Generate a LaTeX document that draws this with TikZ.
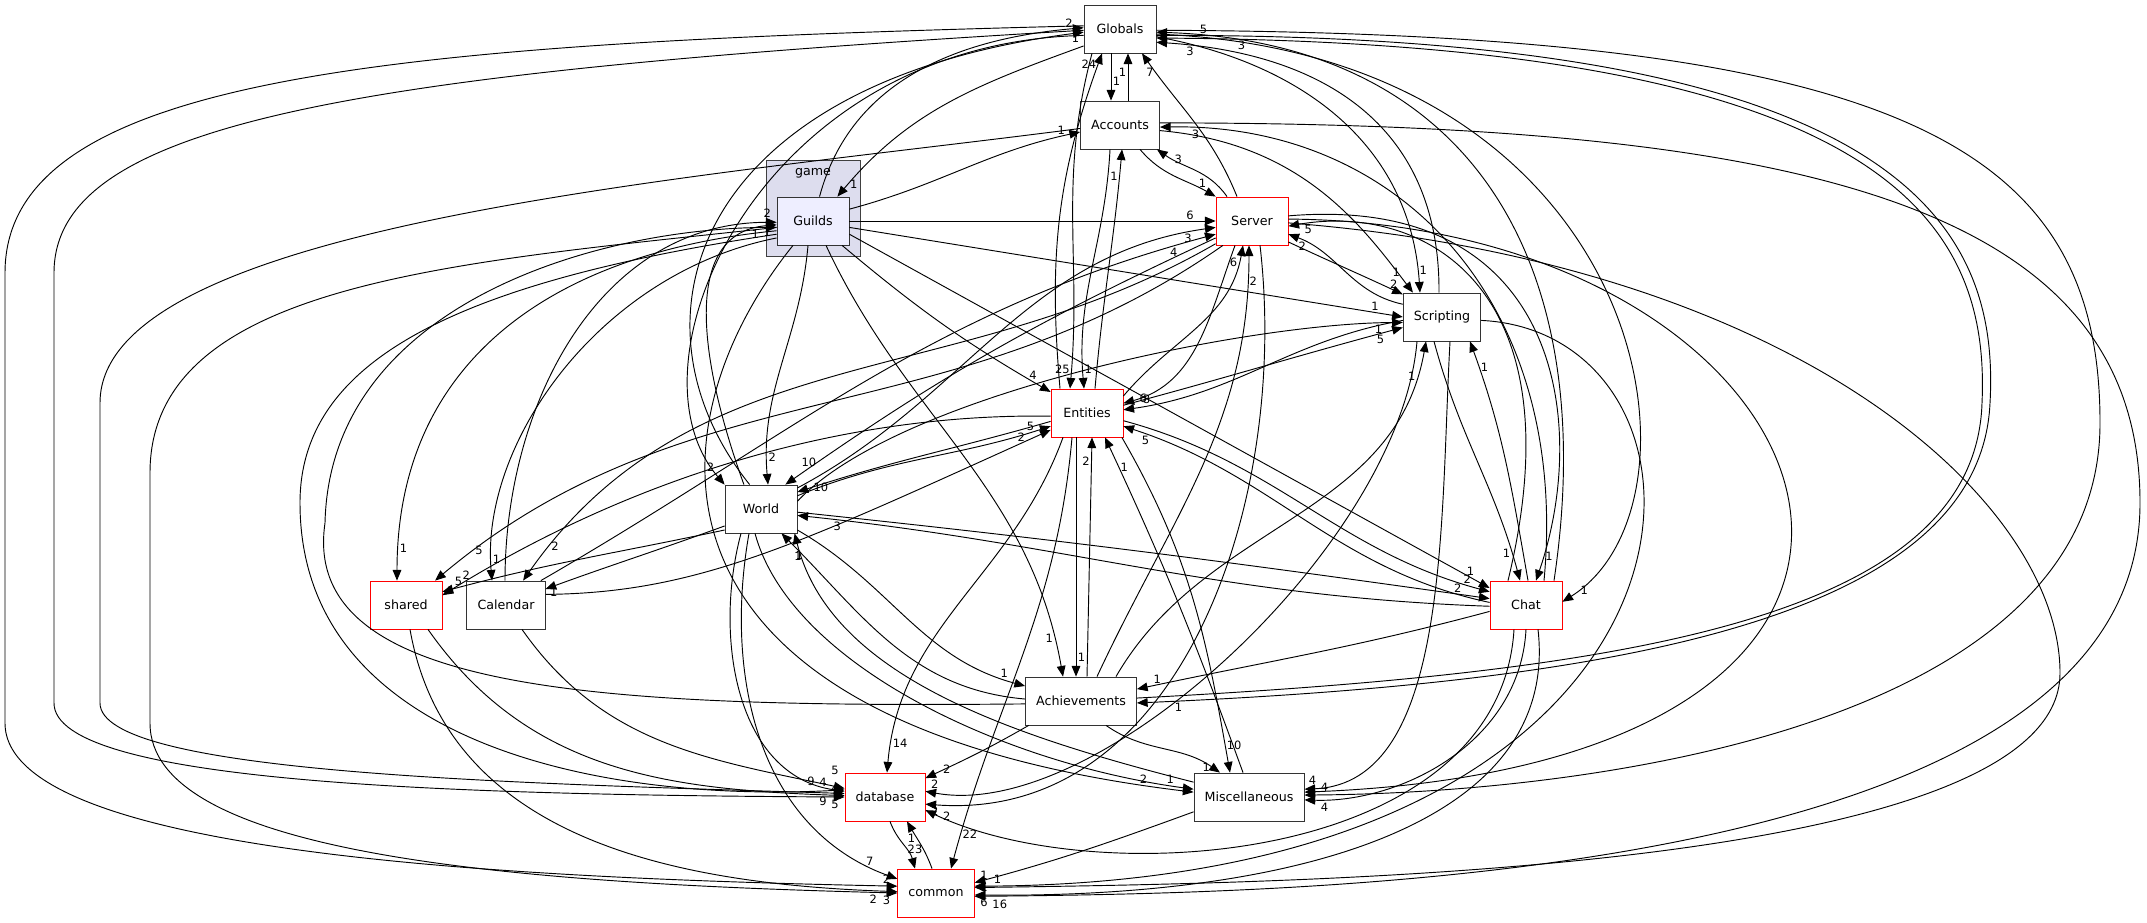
\documentclass[tikz,border=0pt]{standalone}
\usepackage{fontspec}
\setmainfont{DejaVu Sans}
\usepackage{tikz}
\usetikzlibrary{arrows.meta,calc,positioning}
\definecolor{clusterfill}{HTML}{DDDDEE}
\definecolor{guildsfill}{HTML}{EEEEFF}

\begin{document}
\begin{tikzpicture}[x=0.75pt,y=0.75pt]
\tikzstyle{dirnode}=[rectangle,draw=black!80,fill=white,line width=0.6pt,minimum width=54pt,minimum height=36pt,inner xsep=8pt,font=\fontsize{9.5}{11}\selectfont]
\tikzstyle{reddir}=[dirnode,draw=red]
\tikzstyle{curdir}=[dirnode,fill=guildsfill]
\tikzstyle{dep}=[-{Triangle[length=8pt,width=6.5pt]},line width=0.7pt]
\tikzstyle{lbl}=[font=\fontsize{8.6}{10}\selectfont,inner sep=1pt]
\useasboundingbox (0,0) rectangle (2147,923);
\filldraw[fill=clusterfill,draw=black!75,line width=0.6pt] (766.7,667) rectangle (860,762.3);
\node[font=\fontsize{9.5}{11}\selectfont] (gamelbl) at (813,750) {game};

\node[dirnode] (g) at (1120,894) {Globals};
\node[dirnode] (ac) at (1120,798) {Accounts};
\node[curdir] (gu) at (813,702) {Guilds};
\node[reddir] (s) at (1252,702) {Server};
\node[dirnode] (sc) at (1442,606) {Scripting};
\node[reddir] (e) at (1087,510) {Entities};
\node[dirnode] (w) at (761,414) {World};
\node[reddir] (sh) at (406,318) {shared};
\node[dirnode] (ca) at (506,318) {Calendar};
\node[reddir] (ch) at (1526,318) {Chat};
\node[dirnode] (av) at (1081,222) {Achievements};
\node[reddir] (db) at (885,126) {database};
\node[dirnode] (m) at (1249,126) {Miscellaneous};
\node[reddir] (co) at (936,30) {common};

\draw[dep] ($(g.south)+(-9,0)$) -- node[lbl,pos=.6,right]{1} ($(ac.north)+(-9,0)$);
\draw[dep] ($(ac.north)+(8,0)$) -- node[lbl,pos=.6,left]{1} ($(g.south)+(8,0)$);
\draw[dep] ($(e.north)+(-27,0)$) to[out=95,in=-110] node[lbl,pos=.97,left]{24} ($(g.south)+(-18,0)$);
\draw[dep] ($(g.south)+(-28,0)$) to[out=-105,in=85] node[lbl,pos=.95,left]{25} ($(e.north)+(-17,0)$);
\draw[dep] ($(ac.south)+(-10,0)$) to[out=-93,in=95] node[lbl,pos=.93,right]{1} ($(e.north)+(-3,0)$);
\draw[dep] ($(e.north)+(8,0)$) to[out=85,in=-95] node[lbl,pos=.9,left]{1} ($(ac.south)+(2,0)$);
\draw[dep] ($(s.north)+(-15,0)$) to[out=112,in=-55] node[lbl,pos=.88,left]{7} ($(g.south)+(22,0)$);
\draw[dep] ($(s.north)+(-25,0)$) to[out=125,in=-35] node[lbl,pos=.8,right]{3} ($(ac.south east)+(-3,0)$);
\draw[dep] ($(ac.south)+(20,0)$) to[out=-50,in=150] node[lbl,pos=.85,above]{1} (s.north west);

\draw[dep] (g.205) to[out=200,in=50] node[lbl,pos=.95,right]{1} (gu.45);
\draw[dep] (gu.75) to[out=75,in=185] node[lbl,pos=.96,above]{2} (g.178);
\draw[dep] (w.115) .. controls (620,600) and (690,840) .. node[lbl,pos=1,anchor=north east,xshift=-2pt]{1} (g.185);
\draw[dep] (g.190) .. controls (760,880) and (620,560) .. node[lbl,pos=.97,above left]{2} (w.north west);
\draw[dep] (g.175) .. controls (400,880) and (5,850) .. (5,650) -- (5,200) .. controls (5,70) and (500,45) .. node[lbl,pos=1,anchor=south east,xshift=-4pt,yshift=1pt]{2} (co.170);
\draw[dep] (g.182) .. controls (350,850) and (54,800) .. (54,650) -- (54,220) .. controls (54,140) and (450,128) .. node[lbl,pos=1,anchor=north east,xshift=-3pt,yshift=-1pt]{5} (db.180);
\draw[dep] (ac.185) .. controls (700,745) and (100,700) .. (100,520) -- (100,220) .. controls (100,150) and (500,140) .. node[lbl,pos=1,anchor=north east,xshift=-12pt,yshift=-1pt]{9} (db.175);
\draw[dep] (gu.190) .. controls (450,660) and (150,640) .. (150,450) -- (150,200) .. controls (150,70) and (500,40) .. node[lbl,pos=1,anchor=north east,xshift=-4pt,yshift=-1pt]{3} (co.180);
\draw[dep] (gu.200) .. controls (450,640) and (300,560) .. (300,420) .. controls (300,180) and (600,120) .. node[lbl,pos=1,anchor=south east,xshift=-12pt,yshift=1pt]{4} (db.170);
\draw[dep] (gu.195) .. controls (550,670) and (397,560) .. node[lbl,pos=.95,right]{1} ($(sh.north)+(-9,0)$);
\draw[dep] (gu.205) .. controls (600,650) and (480,480) .. node[lbl,pos=.95,right]{1} ($(ca.north)+(-14,0)$);
\draw[dep] ($(ca.north)+(-1,0)$) .. controls (505,520) and (600,700) .. node[lbl,pos=1,anchor=south east,xshift=-3pt,yshift=2pt]{2} (gu.182);
\draw[dep] (w.125) .. controls (700,560) and (680,690) .. node[lbl,pos=1,anchor=north east,xshift=-3pt,yshift=-1pt]{1} (gu.186);
\draw[dep] (av.183) .. controls (600,215) and (300,230) .. (325,400) .. controls (330,620) and (600,695) .. node[lbl,pos=1,anchor=north east,xshift=-12pt,yshift=-1pt]{1} (gu.190);

\draw[dep] (gu.18) to[out=15,in=192] node[lbl,pos=.93,above]{1} (ac.190);
\draw[dep] (gu.east) -- node[lbl,pos=.93,above]{6} (s.west);
\draw[dep] (gu.-10) -- node[lbl,pos=.95,above]{1} (sc.180);
\draw[dep] (gu.-40) to[out=-40,in=150] node[lbl,pos=.93,above]{4} (e.150);
\draw[dep] (gu.-20) -- node[lbl,pos=.97,above]{1} (ch.155);
\draw[dep] ($(gu.south)+(13,0)$) to[out=-65,in=100] node[lbl,pos=.93,left]{1} ($(av.north)+(-18,0)$);
\draw[dep] ($(gu.south)+(-5,0)$) to[out=-95,in=95] node[lbl,pos=.9,right]{2} ($(w.north)+(7,0)$);
\draw[dep] ($(gu.south)+(-20,0)$) .. controls (650,500) and (620,200) .. node[lbl,pos=.97,above]{2} (m.175);

\draw[dep] (w.30) to[out=28,in=188] node[lbl,pos=.95,below]{3} (s.190);
\draw[dep] (ca.35) to[out=30,in=195] node[lbl,pos=.95,below]{4} (s.200);
\draw[dep] (s.205) to[out=205,in=35] node[lbl,pos=.95,above]{10} (w.45);
\draw[dep] (s.212) to[out=210,in=55] node[lbl,pos=.95,right]{2} (ca.55);
\draw[dep] (s.220) to[out=215,in=40] node[lbl,pos=.95,right]{5} (sh.40);
\draw[dep] ($(av.north)+(16,0)$) to[out=65,in=-90] node[lbl,pos=.93,right]{2} ($(s.south)+(-3,0)$);
\draw[dep] (e.25) to[out=50,in=-100] node[lbl,pos=.92,left]{6} ($(s.south)+(-9,0)$);
\draw[dep] ($(s.south)+(-17,0)$) to[out=-110,in=15] node[lbl,pos=.93,right]{6} (e.15);
\draw[dep] (s.-30) to[out=-25,in=155] node[lbl,pos=.93,above]{2} (sc.150);
\draw[dep] (sc.162) to[out=168,in=-20] node[lbl,pos=.9,below]{2} (s.-20);
\draw[dep] ($(ch.north)+(-18,0)$) .. controls (1580,640) and (1420,720) .. node[lbl,pos=.95,below]{5} (s.-8);
\draw[dep] (s.8) .. controls (1560,730) and (1590,500) .. node[lbl,pos=.95,right]{1} ($(ch.north)+(10,0)$);
\draw[dep] ($(s.south)+(8,0)$) .. controls (1290,420) and (1180,100) .. node[lbl,pos=1,anchor=north west,xshift=3pt,yshift=-1pt]{2} (db.-10);
\draw[dep] (s.3) .. controls (1850,700) and (2050,160) .. node[lbl,pos=1,anchor=north west,xshift=2pt,yshift=-2pt]{4} (m.5);
\draw[dep] (s.-3) .. controls (1800,660) and (2060,420) .. (2060,250) .. controls (2060,50) and (1300,40) .. node[lbl,pos=1,anchor=west,xshift=3pt]{1} (co.8);

\draw[dep] (g.-12) .. controls (1300,860) and (1410,780) .. node[lbl,pos=.95,right]{1} ($(sc.north)+(-22,0)$);
\draw[dep] ($(sc.north)+(-3,0)$) .. controls (1440,800) and (1320,870) .. node[lbl,pos=.93,below]{3} (g.-20);
\draw[dep] (ac.-8) .. controls (1300,780) and (1360,700) .. node[lbl,pos=.93,above left]{1} (sc.140);
\draw[dep] (w.12) .. controls (900,530) and (1250,600) .. node[lbl,pos=.95,below]{1} (sc.188);
\draw[dep] (e.12) to[out=15,in=195] node[lbl,pos=.93,below]{5} (sc.195);
\draw[dep] (sc.185) to[out=190,in=8] node[lbl,pos=.93,above]{8} (e.5);
\draw[dep] ($(sc.south)+(-8,0)$) to[out=-75,in=105] node[lbl,pos=.9,left]{1} ($(ch.north)+(-6,0)$);
\draw[dep] ($(ch.north)+(2,0)$) to[out=100,in=-70] node[lbl,pos=.9,right]{1} ($(sc.south)+(28,0)$);
\draw[dep] ($(av.north)+(35,0)$) to[out=60,in=-100] node[lbl,pos=.93,left]{1} ($(sc.south)+(-16,0)$);
\draw[dep] ($(sc.south)+(8,0)$) .. controls (1440,400) and (1450,140) .. node[lbl,pos=1,anchor=south west,xshift=2pt,yshift=2pt]{4} (m.8);
\draw[dep] (sc.-5) .. controls (1750,590) and (1750,40) .. node[lbl,pos=1,anchor=south west,xshift=13pt,yshift=1pt]{1} (co.10);
\draw[dep] ($(sc.south)+(-25,0)$) .. controls (1400,380) and (1100,100) .. node[lbl,pos=1,anchor=south west,xshift=3pt,yshift=1pt]{2} (db.8);

\draw[dep] (w.20) to[out=22,in=198] node[lbl,pos=.93,above]{5} (e.200);
\draw[dep] (e.193) to[out=196,in=18] node[lbl,pos=.95,right]{10} (w.25);
\draw[dep] (ca.15) .. controls (700,330) and (800,380) .. node[lbl,pos=.96,above]{2} (e.205);
\draw[dep] (e.-12) to[out=-15,in=165] node[lbl,pos=.95,above]{2} (ch.160);
\draw[dep] (ch.176) to[out=168,in=-18] node[lbl,pos=.95,below]{5} (e.-20);
\draw[dep] ($(e.south)+(-11,0)$) -- node[lbl,pos=.92,right]{1} ($(av.north)+(-5,0)$);
\draw[dep] ($(av.north)+(6,0)$) -- node[lbl,pos=.9,left]{2} ($(e.south)+(5,0)$);
\draw[dep] ($(m.north)+(-6,0)$) to[out=110,in=-65] node[lbl,pos=.92,right]{1} ($(e.south)+(18,0)$);
\draw[dep] (e.-35) to[out=-60,in=100] node[lbl,pos=.93,right]{10} ($(m.north)+(-19,0)$);
\draw[dep] ($(e.south)+(-24,0)$) to[out=-110,in=85] node[lbl,pos=.93,right]{14} ($(db.north)+(2,0)$);
\draw[dep] ($(e.south)+(-15,0)$) to[out=-95,in=75] node[lbl,pos=.93,right]{22} ($(co.north)+(15,0)$);
\draw[dep] (e.185) .. controls (850,510) and (640,450) .. node[lbl,pos=.96,above]{2} (sh.15);

\draw[dep] (w.205) to[out=200,in=20] node[lbl,pos=.96,below]{1} (ca.22);
\draw[dep] (w.210) to[out=192,in=15] node[lbl,pos=.95,above]{5} (sh.20);
\draw[dep] (w.-5) to[out=-6,in=172] node[lbl,pos=.96,above]{2} (ch.170);
\draw[dep] (ch.182) to[out=178,in=-6] node[lbl,pos=.95,below]{3} (w.-10);
\draw[dep] (w.-30) to[out=-30,in=165] node[lbl,pos=.93,above]{1} (av.165);
\draw[dep] (av.178) to[out=175,in=-45] node[lbl,pos=.93,below]{1} (w.-50);
\draw[dep] ($(w.south)+(-6,0)$) .. controls (790,260) and (1000,160) .. node[lbl,pos=.96,above]{1} (m.172);
\draw[dep] (m.165) .. controls (1000,190) and (830,250) .. node[lbl,pos=.96,below]{1} (w.-36);
\draw[dep] ($(w.south)+(-20,0)$) to[out=-105,in=172] node[lbl,pos=1,anchor=south east,xshift=-3pt,yshift=11pt]{5} (db.172);
\draw[dep] ($(w.south)+(-12,0)$) to[out=-100,in=160] node[lbl,pos=.93,above]{7} (co.160);

\draw[dep] ($(sh.south)+(22,0)$) to[out=-55,in=178] node[lbl,pos=1,anchor=south east,xshift=-3pt,yshift=1pt]{4} (db.178);
\draw[dep] ($(sh.south)+(4,0)$) to[out=-80,in=178] node[lbl,pos=1,anchor=north east,xshift=-14pt,yshift=-1pt]{2} (co.178);
\draw[dep] ($(ca.south)+(16,0)$) to[out=-55,in=168] node[lbl,pos=1,anchor=south east,xshift=-21pt,yshift=1pt]{9} (db.168);

\draw[dep] ($(ch.north)+(18,0)$) .. controls (1570,620) and (1400,800) .. node[lbl,pos=.95,below]{3} (ac.-3);
\draw[dep] ($(ch.north)+(28,0)$) .. controls (1600,650) and (1480,880) .. node[lbl,pos=.95,above]{5} (g.-5);
\draw[dep] (g.-8) .. controls (1650,870) and (1720,420) .. node[lbl,pos=.95,below]{1} (ch.5);
\draw[dep] (ch.190) to[out=195,in=12] node[lbl,pos=.95,above]{1} (av.12);
\draw[dep] ($(ch.south)+(-12,0)$) .. controls (1500,60) and (1100,30) .. node[lbl,pos=1,anchor=north west,xshift=12pt]{2} (db.-18);
\draw[dep] (ch.south) .. controls (1520,180) and (1400,120) .. node[lbl,pos=1,anchor=north west,xshift=11pt,yshift=-1pt]{4} (m.-3);
\draw[dep] ($(ch.south)+(12,0)$) .. controls (1560,100) and (1300,25) .. node[lbl,pos=1,anchor=north west,xshift=3pt,yshift=-1pt]{6} (co.-3);

\draw[dep] (g.-10) .. controls (1900,890) and (2000,700) .. (1990,520) .. controls (1980,300) and (1600,240) .. node[lbl,pos=.97,below]{1} (av.-2);
\draw[dep] (av.3) .. controls (1610,250) and (1975,300) .. (1982,520) .. controls (1990,700) and (1890,880) .. node[lbl,pos=.96,below]{3} (g.-14);
\draw[dep] (av.-155) to[out=-150,in=25] node[lbl,pos=1,anchor=south west,xshift=12pt,yshift=2pt]{2} (db.25);
\draw[dep] ($(av.south)+(25,0)$) to[out=-35,in=145] node[lbl,pos=.93,left]{1} (m.140);

\draw[dep] ($(db.south)+(5,0)$) to[out=-70,in=105] node[lbl,pos=.6,right]{23} ($(co.north)+(-21,0)$);
\draw[dep] ($(co.north)+(-4,0)$) to[out=110,in=-60] node[lbl,pos=.65,left]{1} ($(db.south)+(22,0)$);
\draw[dep] (m.-165) to[out=-160,in=15] node[lbl,pos=1,anchor=south west,xshift=3pt,yshift=1pt]{1} (co.15);
\draw[dep] (ac.3) .. controls (1800,800) and (2140,720) .. (2140,420) .. controls (2140,40) and (1300,30) .. node[lbl,pos=1,anchor=north west,xshift=12pt,yshift=-1pt]{16} (co.-5);
\draw[dep] (g.-2) .. controls (1900,890) and (2100,780) .. (2100,500) .. controls (2100,200) and (1600,130) .. node[lbl,pos=1,anchor=south west,xshift=11pt,yshift=1pt]{4} (m.2);
\end{tikzpicture}
\end{document}
